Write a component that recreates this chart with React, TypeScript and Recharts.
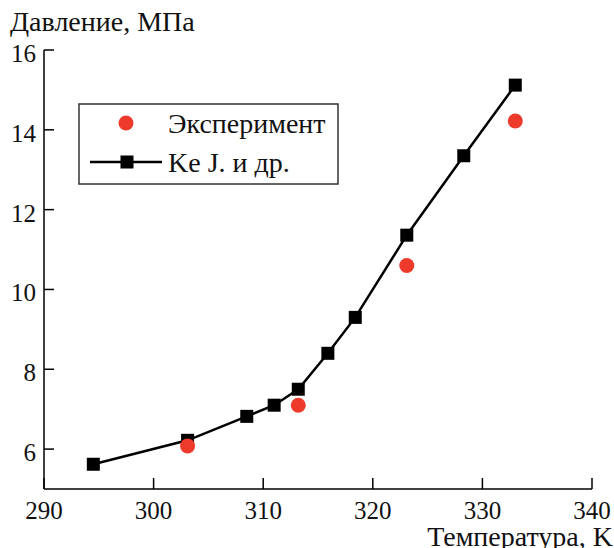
import React from "react"
import {
  ComposedChart,
  Line,
  Scatter,
  XAxis,
  YAxis,
  Customized,
} from "recharts"

// Ke J. и др. (calculated curve)
const keTemps = [294.5, 303.1, 308.5, 311.0, 313.2, 315.9, 318.4, 323.1, 328.3, 333.0]
const kePressures = [5.62, 6.22, 6.82, 7.1, 7.5, 8.4, 9.3, 11.36, 13.35, 15.12]

// experiment points
const expTemps = [303.1, 313.2, 323.1, 333.0]
const expPressures = [6.08, 7.1, 10.6, 14.22]

const xTicks = [290, 300, 310, 320, 330, 340]
const yTicks = [6, 8, 10, 12, 14, 16]

const keData = keTemps.map((t, i) => ({ t, p: kePressures[i] }))
const expData = expTemps.map((t, i) => ({ t, p: expPressures[i] }))

const FONT = "'Liberation Serif', 'DejaVu Serif', serif"
const RED = "#ee3a2b"

function Square(props: any) {
  const { cx, cy } = props
  if (cx == null || cy == null) return null
  return <rect x={cx - 6.5} y={cy - 6.5} width={13} height={13} fill="#000" />
}

function RedDot(props: any) {
  const { cx, cy } = props
  if (cx == null || cy == null) return null
  return <circle cx={cx} cy={cy} r={7.5} fill={RED} />
}

function XTick(props: any) {
  const { x, y, payload } = props
  return (
    <g>
      <line x1={x} y1={y} x2={x} y2={y - 11} stroke="#000" strokeWidth={1.5} />
      <text x={x} y={y + 30} textAnchor="middle" fontSize={25} fontFamily={FONT} fill="#111">
        {payload.value}
      </text>
    </g>
  )
}

function YTick(props: any) {
  const { x, y, payload } = props
  return (
    <g>
      <line x1={x} y1={y} x2={x + 10} y2={y} stroke="#000" strokeWidth={1.5} />
      <text x={x - 8} y={y + 12} textAnchor="end" fontSize={25} fontFamily={FONT} fill="#111">
        {payload.value}
      </text>
    </g>
  )
}

function Overlay() {
  return (
    <g>
      <text x={10} y={31} fontSize={28} fontFamily={FONT} fill="#111">
        Давление, МПа
      </text>
      <text x={613} y={546} textAnchor="end" fontSize={28} fontFamily={FONT} fill="#111">
        Температура, K
      </text>
      <g transform="translate(79,104)">
        <rect x={0} y={0} width={259} height={80} fill="#fff" stroke="#333" strokeWidth={1.5} />
        <circle cx={47} cy={19} r={7.5} fill={RED} />
        <text x={89} y={29} fontSize={28} fontFamily={FONT} fill="#111">
          Эксперимент
        </text>
        <line x1={11} y1={58} x2={83} y2={58} stroke="#000" strokeWidth={2.5} />
        <rect x={41.5} y={51.5} width={13} height={13} fill="#000" />
        <text x={89} y={68} fontSize={28} fontFamily={FONT} fill="#111">
          Ke J. и др.
        </text>
      </g>
    </g>
  )
}

export default function App() {
  return (
    <div style={{ position: "absolute", left: 0, top: 0, width: 614, height: 548, background: "#fff" }}>
      <ComposedChart width={614} height={548} margin={{ top: 50, right: 22, bottom: 0, left: 0 }}>
        <XAxis
          type="number"
          dataKey="t"
          domain={[290, 340]}
          ticks={xTicks}
          allowDataOverflow
          height={59}
          tickSize={0}
          tickMargin={0}
          tickLine={false}
          tick={<XTick />}
          axisLine={{ stroke: "#000", strokeWidth: 1.5 }}
        />
        <YAxis
          type="number"
          dataKey="p"
          domain={[5, 16]}
          ticks={yTicks}
          allowDataOverflow
          width={44}
          tickSize={0}
          tickMargin={0}
          tickLine={false}
          tick={<YTick />}
          axisLine={{ stroke: "#000", strokeWidth: 1.5 }}
        />
        <Line
          data={keData}
          dataKey="p"
          type="linear"
          stroke="#000"
          strokeWidth={2.5}
          dot={<Square />}
          activeDot={false}
          isAnimationActive={false}
          name="Ke J. и др."
        />
        <Scatter
          data={expData}
          dataKey="p"
          fill={RED}
          shape={<RedDot />}
          isAnimationActive={false}
          name="Эксперимент"
        />
        <Customized component={<Overlay />} />
      </ComposedChart>
    </div>
  )
}
